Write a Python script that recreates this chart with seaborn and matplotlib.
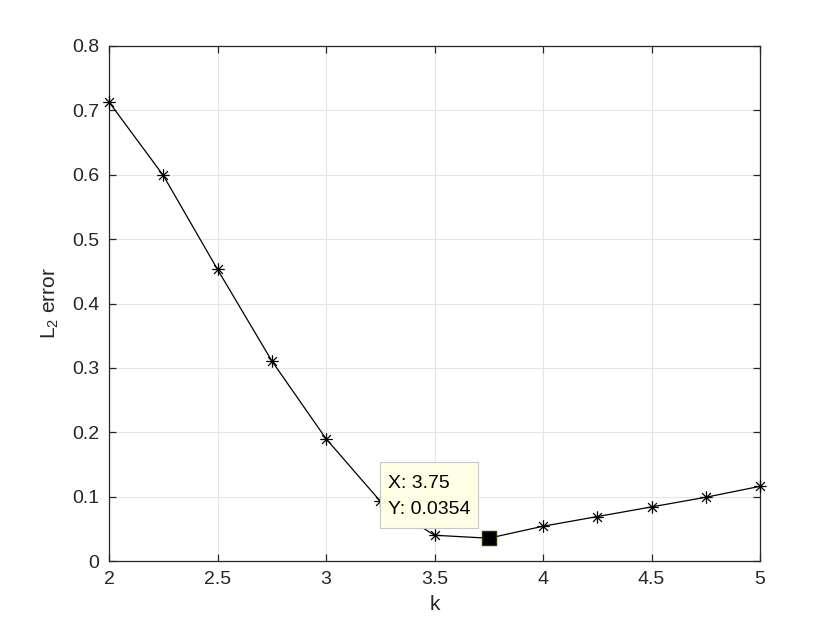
import numpy as np
import pandas as pd
import matplotlib
matplotlib.use("Agg")
import matplotlib.pyplot as plt
from matplotlib.path import Path
from matplotlib.patches import Rectangle
import seaborn as sns

# ---- data ----
k_values = [2.0, 2.25, 2.5, 2.75, 3.0, 3.25, 3.5, 3.75, 4.0, 4.25, 4.5, 4.75, 5.0]
l2_error = [0.713, 0.599, 0.453, 0.311, 0.190, 0.093, 0.040, 0.0354,
            0.054, 0.069, 0.084, 0.099, 0.116]
tip_x = 3.75
tip_y = 0.0354
x_ticks = [2, 2.5, 3, 3.5, 4, 4.5, 5]
y_ticks = [0, 0.1, 0.2, 0.3, 0.4, 0.5, 0.6, 0.7, 0.8]

df = pd.DataFrame({"k": k_values, "err": l2_error})

sns.set_theme(style="white")
plt.rcParams["font.family"] = ["Liberation Sans", "DejaVu Sans"]
plt.rcParams["mathtext.fontset"] = "custom"
plt.rcParams["mathtext.rm"] = "Liberation Sans"
plt.rcParams["mathtext.it"] = "Liberation Sans"

fig = plt.figure(figsize=(8.4, 6.3), dpi=100)
ax = fig.add_axes([109 / 840, 69 / 630, 651 / 840, 515 / 630])

# MATLAB-like asterisk marker (+ and x combined)
s = 1.0
d = 0.7071
verts = [(-s, 0), (s, 0), (0, -s), (0, s), (-d, -d), (d, d), (-d, d), (d, -d)]
codes = [Path.MOVETO, Path.LINETO] * 4
asterisk = Path(verts, codes)

sns.lineplot(data=df, x="k", y="err", ax=ax, color="black", linewidth=0.9,
             marker=asterisk, markersize=9, markeredgewidth=0.9,
             markeredgecolor="black", markerfacecolor="none", clip_on=False,
             zorder=4)

# highlighted data tip point
ax.plot([tip_x], [tip_y], marker="s", markersize=10, color="black",
        markeredgecolor="#333300", linestyle="none", zorder=5)

ax.set_xlim(2, 5)
ax.set_ylim(0, 0.8)
ax.set_xticks(x_ticks)
ax.set_yticks(y_ticks)
ax.set_xticklabels([f"{v:g}" for v in x_ticks])
ax.set_yticklabels([f"{v:g}" for v in y_ticks])

ax.grid(True, color="#e6e6e6", linewidth=0.8)
ax.set_axisbelow(True)
for sp in ax.spines.values():
    sp.set_visible(True)
    sp.set_color("#262626")
    sp.set_linewidth(0.9)
ax.tick_params(direction="in", length=5, width=0.9, colors="#262626",
               labelsize=14, top=True, right=True, bottom=True, left=True,
               labelcolor="#262626", pad=7)

ax.set_xlabel("k", fontsize=15, color="#262626", labelpad=5)
ax.set_ylabel("L$_2$ error", fontsize=15, color="#262626", labelpad=8)

# data tip box
tx0 = 2 + (380 - 109) / 651 * 3
tx1 = 2 + (478 - 109) / 651 * 3
ty0 = (561 - 528) / 515 * 0.8
ty1 = (561 - 462) / 515 * 0.8
ax.add_patch(Rectangle((tx0, ty0), tx1 - tx0, ty1 - ty0, facecolor="#ffffe6",
                       edgecolor="#c8c8c8", linewidth=0.8, zorder=6))
ax.text(tx0 + 0.035, (561 - 484) / 515 * 0.8, f"X: {tip_x:g}", fontsize=14,
        color="black", va="center", ha="left", zorder=7)
ax.text(tx0 + 0.035, (561 - 509) / 515 * 0.8, f"Y: {tip_y:g}", fontsize=14,
        color="black", va="center", ha="left", zorder=7)

fig.savefig("out.png", dpi=100, facecolor="white")
